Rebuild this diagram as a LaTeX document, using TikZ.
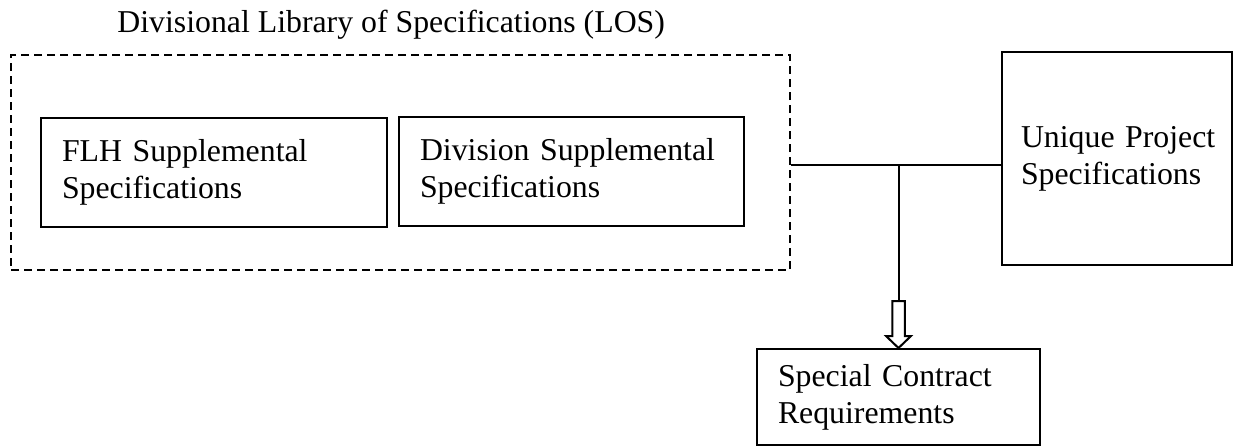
\documentclass[tikz,border=0pt]{standalone}
\usepackage{fontspec}
\setmainfont{Liberation Serif}
\usetikzlibrary{calc}

\begin{document}
\begin{tikzpicture}[x=.5pt,y=-.5pt,
		specbox/.style={draw,line width=1pt,rectangle,align=left,inner xsep=10.5pt,inner ysep=0pt,font=\fs},
		]
	\def\fs{\fontsize{15.9pt}{18.5pt}\selectfont}
	\useasboundingbox (0,0) rectangle (1239,447);
	
	% library of specifications
	\node[draw,dash pattern=on 4pt off 2.5pt,line width=1pt,minimum width=389.5pt,minimum height=107.5pt] (los) at (400.5,162.5) {};
	\node[anchor=base west,inner sep=0pt,font=\fs] (lostitle) at (117,32) {Divisional Library of Specifications (LOS)};
	
	\node[specbox,text width=152pt,minimum height=54.5pt] (flh) at (214,172.5) {FLH Supplemental\\Specifications};
	\node[specbox,text width=151.5pt,minimum height=54.5pt] (division) at (571.5,171.5) {Division Supplemental\\Specifications};
	
	\node[specbox,inner xsep=9.5pt,text width=96pt,minimum height=106.5pt] (unique) at (1117,158.5) {Unique~Project\\Specifications};
	\node[specbox,text width=120.5pt,minimum height=48pt] (special) at (898.5,397) {Special Contract\\Requirements};
	
	% connectors
	\coordinate (jn) at (898.5,165);
	\coordinate (shafttop) at ($(special.north)+(0,-47)$);
	\draw[line width=1pt] (los.east |- jn) -- (unique.west |- jn);
	\draw[line width=1pt] (jn) -- (shafttop);
	\draw[line width=1pt] (special.north) -- ++(-12.5,-12) -- ++(6.25,0) -- ++(0,-35)
		-- ++(12.5,0) -- ++(0,35) -- ++(6.25,0) -- cycle;
\end{tikzpicture}
\end{document}
